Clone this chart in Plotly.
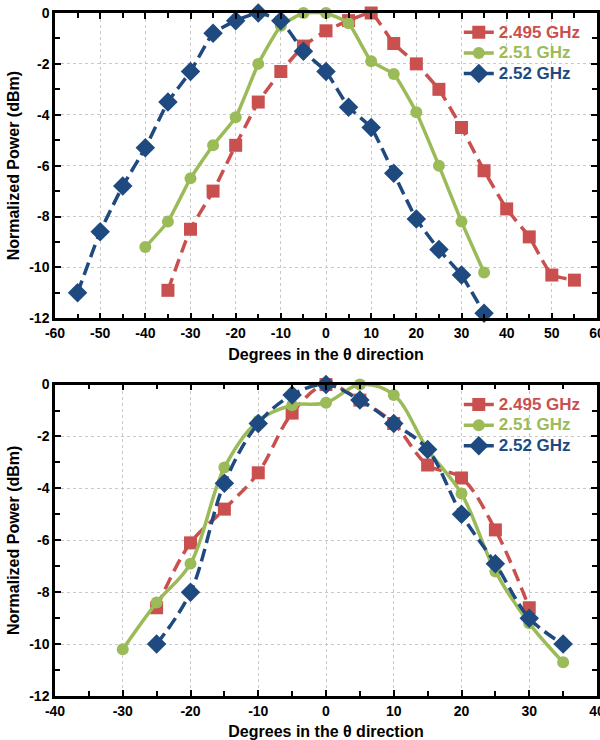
import plotly.graph_objects as go
from plotly.subplots import make_subplots

# top panel
top_red_x = [-35, -30, -25, -20, -15, -10, -5, 0, 5, 10, 15, 20, 25, 30, 35, 40, 45, 50, 55]
top_red_y = [-10.9, -8.5, -7.0, -5.2, -3.5, -2.3, -1.3, -0.7, -0.3, 0, -1.2, -2.0, -3.0, -4.5, -6.2, -7.7, -8.8, -10.3, -10.5]
top_green_x = [-40, -35, -30, -25, -20, -15, -10, -5, 0, 5, 10, 15, 20, 25, 30, 35]
top_green_y = [-9.2, -8.2, -6.5, -5.2, -4.1, -2.0, -0.5, 0, 0, -0.4, -1.9, -2.4, -3.9, -6.0, -8.2, -10.2]
top_blue_x = [-55, -50, -45, -40, -35, -30, -25, -20, -15, -10, -5, 0, 5, 10, 15, 20, 25, 30, 35]
top_blue_y = [-11.0, -8.6, -6.8, -5.3, -3.5, -2.3, -0.8, -0.3, 0, -0.3, -1.5, -2.3, -3.7, -4.5, -6.3, -8.1, -9.3, -10.3, -11.8]

# bottom panel
bot_red_x = [-25, -20, -15, -10, -5, 0, 5, 10, 15, 20, 25, 30]
bot_red_y = [-8.6, -6.1, -4.8, -3.4, -1.1, 0, -0.6, -1.5, -3.1, -3.6, -5.6, -8.6]
bot_green_x = [-30, -25, -20, -15, -10, -5, 0, 5, 10, 15, 20, 25, 30, 35]
bot_green_y = [-10.2, -8.4, -6.9, -3.2, -1.4, -0.8, -0.7, 0, -0.4, -2.5, -4.2, -7.2, -9.2, -10.7]
bot_blue_x = [-25, -20, -15, -10, -5, 0, 5, 10, 15, 20, 25, 30, 35]
bot_blue_y = [-10.0, -8.0, -3.8, -1.5, -0.4, 0, -0.6, -1.5, -2.5, -5.0, -6.9, -9.0, -10.0]

names = ["2.495 GHz", "2.51 GHz", "2.52 GHz"]
colors = ["#C9504F", "#9BBB59", "#1F4A80"]
symbols = ["square", "circle", "diamond"]
sizes = [13, 12, 15]
dashes = ["13px,7px", "solid", "13px,6px"]

top_xticks = list(range(-60, 61, 10))
bot_xticks = list(range(-40, 41, 10))
yticks = list(range(-12, 1, 2))

FONT = "Arial, Liberation Sans, sans-serif"

fig = make_subplots(rows=2, cols=1, vertical_spacing=0.097)

top_data = [(top_red_x, top_red_y), (top_green_x, top_green_y), (top_blue_x, top_blue_y)]
bot_data = [(bot_red_x, bot_red_y), (bot_green_x, bot_green_y), (bot_blue_x, bot_blue_y)]


def label(i):
    # big coloured text, legend row height stays driven by the small legend font
    return "<span style='color:%s;font-size:17px'>%s</span>" % (colors[i], names[i])


for i, (xs, ys) in enumerate(top_data):
    fig.add_trace(go.Scatter(
        x=xs, y=ys, mode="lines+markers", name=label(i),
        line=dict(color=colors[i], width=3.5, dash=dashes[i], shape="spline", smoothing=0.4),
        marker=dict(symbol=symbols[i], size=sizes[i], color=colors[i]),
        cliponaxis=False, legend="legend"), row=1, col=1)

for i, (xs, ys) in enumerate(bot_data):
    fig.add_trace(go.Scatter(
        x=xs, y=ys, mode="lines+markers", name=label(i),
        line=dict(color=colors[i], width=3.5, dash=dashes[i], shape="spline", smoothing=1),
        marker=dict(symbol=symbols[i], size=sizes[i], color=colors[i]),
        cliponaxis=False, legend="legend2"), row=2, col=1)

axis_common = dict(
    showline=True, linecolor="black", linewidth=2.5, mirror="ticks",
    ticks="inside", ticklen=6, tickwidth=2, tickcolor="black",
    showgrid=True, gridcolor="#c8c8c8", griddash="dot", gridwidth=1,
    zeroline=False, automargin=False, ticklabeloverflow="allow",
    tickfont=dict(family=FONT, size=14, color="black", weight="bold"),
)

for r, ticks, rng in [(1, top_xticks, [-60, 60]), (2, bot_xticks, [-40, 40])]:
    fig.update_xaxes(
        range=rng, tickvals=ticks, ticktext=[str(t) for t in ticks],
        minor=dict(dtick=5, ticks="inside", ticklen=5, tickwidth=2, tickcolor="black", showgrid=False),
        title=dict(text="Degrees in the θ direction", standoff=9,
                   font=dict(family=FONT, size=16, color="black", weight="bold")),
        row=r, col=1, **axis_common)
    fig.update_yaxes(
        range=[-12, 0], tickvals=yticks, ticktext=[str(t) for t in yticks],
        minor=dict(dtick=1, ticks="inside", ticklen=5, tickwidth=2, tickcolor="black", showgrid=False),
        title=dict(text="Normalized Power (dBm)", standoff=6,
                   font=dict(family=FONT, size=16, color="black", weight="bold")),
        row=r, col=1, **axis_common)

fig.update_yaxes(domain=[0.553, 1.0], row=1, col=1)
fig.update_yaxes(domain=[0.0, 0.456], row=2, col=1)

legend_common = dict(
    xanchor="left", yanchor="top", bgcolor="rgba(0,0,0,0)",
    font=dict(family=FONT, size=13.5, weight="bold"),
    tracegroupgap=0, itemwidth=30,
)

fig.update_layout(
    width=600, height=740,
    margin=dict(l=55, r=3, t=13, b=44, autoexpand=False),
    paper_bgcolor="white", plot_bgcolor="white",
    showlegend=True,
    legend=dict(x=0.745, y=0.994, **legend_common),
    legend2=dict(x=0.745, y=0.449, **legend_common),
)

# drop the default 8px body margin so the 600x740 figure fills the window
fig.write_html("out.html", config={"displayModeBar": False},
               post_script="document.body.style.margin='0';")
